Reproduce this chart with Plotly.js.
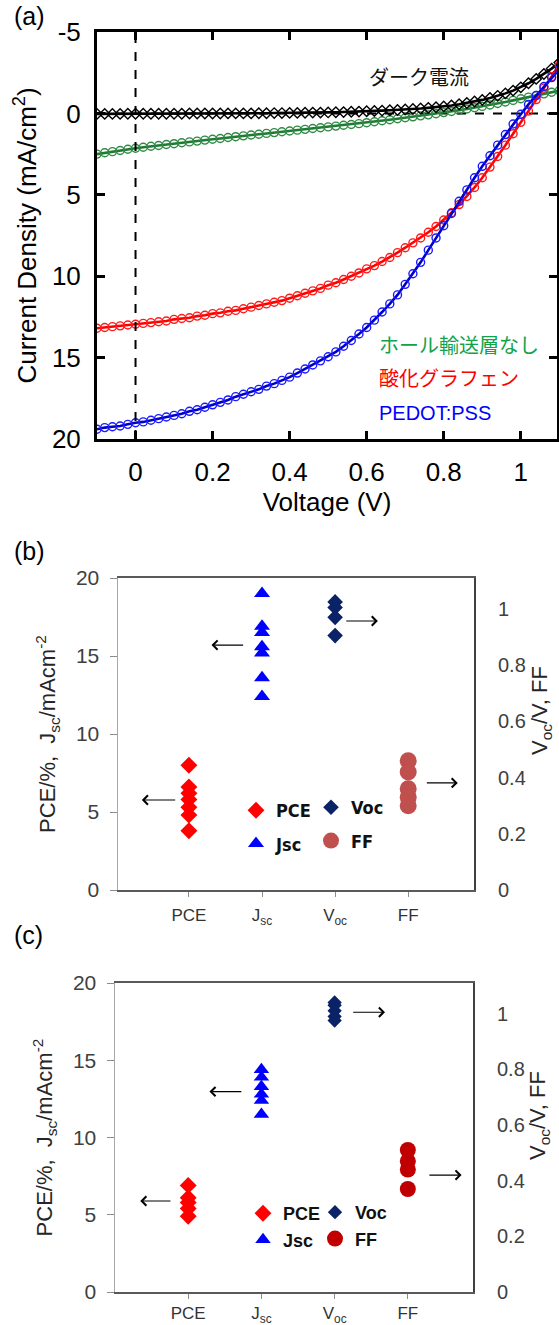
<!DOCTYPE html>
<html><head><meta charset="utf-8">
<script src="https://cdn.plot.ly/plotly-3.0.1.min.js"></script>
<style>html,body{margin:0;padding:0;background:#fff}</style>
</head><body>
<div id="chart" style="width:559px;height:1325px"></div>
<script>
// ---------- Panel (a): J-V curves ----------
const voltage = [-0.10,-0.08,-0.06,-0.04,-0.02,0.00,0.02,0.04,0.06,0.08,0.10,0.12,0.14,0.16,0.18,0.20,0.22,0.24,0.26,0.28,0.30,0.32,0.34,0.36,0.38,0.40,0.42,0.44,0.46,0.48,0.50,0.52,0.54,0.56,0.58,0.60,0.62,0.64,0.66,0.68,0.70,0.72,0.74,0.76,0.78,0.80,0.82,0.84,0.86,0.88,0.90,0.92,0.94,0.96,0.98,1.00,1.02,1.04,1.06,1.08,1.10];
const jDark = [0.03,0.03,0.03,0.03,0.02,0.02,0.02,0.02,0.02,0.02,0.02,0.02,0.01,0.01,0.01,0.01,0.01,0.0,0.0,0.0,0.0,-0.01,-0.01,-0.02,-0.02,-0.03,-0.03,-0.04,-0.05,-0.05,-0.06,-0.07,-0.08,-0.10,-0.11,-0.13,-0.15,-0.17,-0.19,-0.21,-0.24,-0.27,-0.30,-0.34,-0.38,-0.43,-0.49,-0.56,-0.64,-0.73,-0.83,-0.95,-1.08,-1.23,-1.40,-1.60,-1.85,-2.12,-2.42,-2.75,-3.12];
const jNoHTL = [2.50,2.42,2.35,2.28,2.20,2.14,2.08,2.02,1.97,1.91,1.86,1.80,1.75,1.70,1.64,1.59,1.54,1.48,1.43,1.38,1.33,1.28,1.23,1.18,1.13,1.08,1.03,0.98,0.93,0.88,0.83,0.78,0.73,0.68,0.63,0.57,0.51,0.45,0.39,0.33,0.27,0.21,0.15,0.09,0.02,-0.05,-0.12,-0.19,-0.27,-0.35,-0.43,-0.52,-0.61,-0.70,-0.80,-0.90,-1.00,-1.10,-1.20,-1.30,-1.40];
const jGO = [13.20,13.15,13.10,13.05,13.00,12.95,12.90,12.85,12.80,12.75,12.65,12.60,12.55,12.45,12.40,12.30,12.25,12.15,12.10,12.00,11.90,11.80,11.70,11.60,11.50,11.35,11.20,11.05,10.90,10.75,10.55,10.40,10.20,10.00,9.80,9.55,9.35,9.10,8.85,8.55,8.25,7.95,7.65,7.30,6.95,6.55,6.10,5.60,5.10,4.55,3.95,3.30,2.65,1.95,1.25,0.55,-0.15,-0.85,-1.55,-2.25,-2.95];
const jPEDOT = [19.40,19.30,19.25,19.20,19.10,19.00,18.95,18.85,18.75,18.65,18.55,18.45,18.30,18.20,18.05,17.90,17.75,17.60,17.40,17.25,17.10,16.95,16.75,16.60,16.40,16.20,15.95,15.70,15.45,15.20,14.95,14.65,14.30,13.95,13.55,13.15,12.70,12.20,11.70,11.15,10.50,9.85,9.15,8.40,7.65,6.90,6.15,5.40,4.70,3.95,3.25,2.60,1.95,1.30,0.65,0.05,-0.55,-1.10,-1.65,-2.20,-2.70];
const aXTicks = [0, 0.2, 0.4, 0.6, 0.8, 1];
const aYTicks = [-5, 0, 5, 10, 15, 20];
const aYTickText = ['-5', '0', '5', '10', '15', '20'];

// ---------- Panels (b), (c): device parameters ----------
const paramCats = ['PCE', 'Jsc', 'Voc', 'FF'];
const paramTickText = ['PCE', 'J<sub>sc</sub>', 'V<sub>oc</sub>', 'FF'];
const leftTicks = [0, 5, 10, 15, 20];
const rightTicks = [0, 0.2, 0.4, 0.6, 0.8, 1];
const rightTickText = ['0', '0.2', '0.4', '0.6', '0.8', '1'];

const bPCE = [8.0, 6.6, 6.2, 5.8, 5.3, 4.8, 3.8];
const bJsc = [19.0, 16.9, 16.5, 15.6, 15.2, 13.6, 12.4];
const bVoc = [1.025, 1.005, 0.97, 0.905];
const bFF  = [0.46, 0.42, 0.36, 0.33, 0.30];

const cPCE = [6.9, 6.1, 5.8, 5.4, 4.9];
const cJsc = [14.4, 13.9, 13.3, 12.8, 12.4, 11.5];
const cVoc = [1.04, 1.03, 1.01, 0.99, 0.975];
const cFF  = [0.51, 0.47, 0.44, 0.37];

const W = 559, H = 1325;
const px = v => v / W;
const py = v => 1 - v / H;

const AR = 'Liberation Sans, Arial, sans-serif';
const JP = 'Noto Sans CJK JP, sans-serif';
const NARROW = 'Liberation Sans Narrow, DejaVu Sans Condensed, Arial Narrow, sans-serif';

function jvTrace(y, lineColor, markColor, symbol, name) {
  return {x: voltage, y: y, xaxis: 'x', yaxis: 'y', mode: 'lines+markers', name: name,
    showlegend: false, cliponaxis: true,
    line: {color: lineColor, width: 2.6},
    marker: {symbol: symbol, size: 8, color: markColor, line: {color: markColor, width: 1.4}}};
}
function cat(arr, c) { return arr.map(() => c); }

const traces = [
  jvTrace(jNoHTL, '#1f7a32', '#2f8a45', 'circle-open', 'ホール輸送層なし'),
  jvTrace(jDark, '#000000', '#000000', 'diamond-open', 'ダーク電流'),
  jvTrace(jGO, '#ff0000', '#ff1a1a', 'circle-open', '酸化グラフェン'),
  jvTrace(jPEDOT, '#0000c8', '#1a1aff', 'circle-open', 'PEDOT:PSS'),

  {x: cat(bPCE,'PCE'), y: bPCE, xaxis:'x2', yaxis:'y2', mode:'markers', name:'PCE', legend:'legend', legendgroup:'b1',
   marker:{symbol:'diamond', size:13, color:'#ff0000'}},
  {x: cat(bJsc,'Jsc'), y: bJsc, xaxis:'x2', yaxis:'y2', mode:'markers', name:'Jsc', legend:'legend', legendgroup:'b2',
   marker:{symbol:'triangle-up', size:14, color:'#0000ff'}},
  {x: cat(bVoc,'Voc'), y: bVoc, xaxis:'x2', yaxis:'y3', mode:'markers', name:'Voc', legend:'legend2', legendgroup:'b3',
   marker:{symbol:'diamond', size:12, color:'#0a2266'}},
  {x: cat(bFF,'FF'), y: bFF, xaxis:'x2', yaxis:'y3', mode:'markers', name:'FF', legend:'legend2', legendgroup:'b4',
   marker:{symbol:'circle', size:17, color:'#c0504d'}},

  {x: cat(cPCE,'PCE'), y: cPCE, xaxis:'x3', yaxis:'y4', mode:'markers', name:'PCE', legend:'legend3',
   marker:{symbol:'diamond', size:13, color:'#ff0000'}},
  {x: cat(cJsc,'Jsc'), y: cJsc, xaxis:'x3', yaxis:'y4', mode:'markers', name:'Jsc', legend:'legend3',
   marker:{symbol:'triangle-up', size:13.5, color:'#0000ff'}},
  {x: cat(cVoc,'Voc'), y: cVoc, xaxis:'x3', yaxis:'y5', mode:'markers', name:'Voc', legend:'legend4',
   marker:{symbol:'diamond', size:11, color:'#0a2266'}},
  {x: cat(cFF,'FF'), y: cFF, xaxis:'x3', yaxis:'y5', mode:'markers', name:'FF', legend:'legend4',
   marker:{symbol:'circle', size:16, color:'#c00000'}}
];

const aAxisCommon = {showline:true, linecolor:'#000', linewidth:3, mirror:'ticks', ticks:'inside',
  ticklen:8, tickwidth:3, tickcolor:'#000', showgrid:false, zeroline:false,
  tickfont:{family:AR, size:26, color:'#000'}};

function catX(domain, anchor, range, standoff) {
  return {domain: domain, anchor: anchor, type:'category', categoryorder:'array', categoryarray: paramCats,
    range: range, tickmode:'array', tickvals: paramCats, ticktext: paramTickText,
    ticks:'outside', ticklen:5, tickwidth:1, tickcolor:'#8c8c8c',
    showline:true, linecolor:'#595959', linewidth:2, mirror:true, showgrid:false, zeroline:false,
    ticklabelstandoff: standoff, tickfont:{family:AR, size:17, color:'#333'}};
}
function leftY(domain, anchor, title) {
  return {domain: domain, anchor: anchor, range:[0,20], tickmode:'array', tickvals:leftTicks,
    ticks:'outside', ticklen:7, tickwidth:1, tickcolor:'#8c8c8c',
    showline:true, linecolor:'#a6a6a6', linewidth:1.5, showgrid:false, zeroline:false,
    ticklabelstandoff: 6, tickfont:{family:AR, size:21, color:'#404040'},
    title:{text: title, font:{family:AR, size:22, color:'#262626'}, standoff: 14}};
}
function rightY(overlay, anchor) {
  return {overlaying: overlay, anchor: anchor, side:'right', range:[0,1.11], tickmode:'array',
    tickvals: rightTicks, ticktext: rightTickText, ticks:'', showline:true, linecolor:'#404040', linewidth:2,
    showgrid:false, zeroline:false, ticklabelstandoff: 18, tickfont:{family:AR, size:20, color:'#404040'}};
}

const layout = {
  width: W, height: H, margin:{l:0, r:0, t:0, b:0}, paper_bgcolor:'#fff', plot_bgcolor:'rgba(0,0,0,0)',
  font:{family:AR},
  xaxis: Object.assign({}, aAxisCommon, {domain:[px(97), px(557)], anchor:'y', range:[-0.1, 1.094],
    tickmode:'array', tickvals:aXTicks, ticklabelstandoff: 8,
    title:{text:'Voltage (V)', font:{family:AR, size:26, color:'#000'}, standoff: 4}}),
  yaxis: Object.assign({}, aAxisCommon, {domain:[py(439), py(32)], anchor:'x', range:[20, -5],
    tickmode:'array', tickvals:aYTicks, ticktext:aYTickText, ticklabelstandoff: 8,
    title:{text:'Current Density (mA/cm<sup>2</sup>)', font:{family:AR, size:26, color:'#000'}, standoff: 8}}),

  xaxis2: catX([px(118), px(474)], 'y2', [-0.97, 3.9], 4),
  yaxis2: leftY([py(890), py(578)], 'x2', 'PCE/%,  J<sub>sc</sub>/mAcm<sup>-2</sup>'),
  yaxis3: rightY('y2', 'x2'),

  xaxis3: catX([px(115), px(473)], 'y4', [-1.0, 3.89], 0),
  yaxis4: leftY([py(1292), py(983)], 'x3', 'PCE/%,  J<sub>sc</sub>/mAcm<sup>-2</sup>'),
  yaxis5: rightY('y4', 'x3'),

  legend:  {x: px(236), y: py(792), xanchor:'left', yanchor:'top', bgcolor:'rgba(0,0,0,0)', traceorder:'grouped',
            tracegroupgap: 7, itemsizing:'trace', font:{family:NARROW, size:18, color:'#111', weight:'bold'}},
  legend2: {x: px(311), y: py(789), xanchor:'left', yanchor:'top', bgcolor:'rgba(0,0,0,0)', traceorder:'grouped',
            tracegroupgap: 7, itemsizing:'trace', font:{family:NARROW, size:18, color:'#111', weight:'bold'}},
  legend3: {x: px(243), y: py(1195), xanchor:'left', yanchor:'top', bgcolor:'rgba(0,0,0,0)',
            itemsizing:'trace', font:{family:AR, size:18, color:'#111', weight:'bold'}},
  legend4: {x: px(315), y: py(1194), xanchor:'left', yanchor:'top', bgcolor:'rgba(0,0,0,0)',
            itemsizing:'trace', font:{family:AR, size:18, color:'#111', weight:'bold'}},

  shapes: [
    {type:'line', xref:'x', yref:'y domain', x0:0, x1:0, y0:0, y1:1, line:{color:'#000', width:2, dash:'dash'}},
    {type:'line', xref:'x domain', yref:'y', x0:0, x1:1, y0:0, y1:0, line:{color:'#000', width:2, dash:'dash'}, layer:'below'}
  ],

  annotations: [
    {text:'(a)', xref:'paper', yref:'paper', x:px(12), y:py(16), xanchor:'left', yanchor:'middle', showarrow:false, font:{family:AR, size:25, color:'#000'}},
    {text:'(b)', xref:'paper', yref:'paper', x:px(12), y:py(551), xanchor:'left', yanchor:'middle', showarrow:false, font:{family:AR, size:25, color:'#000'}},
    {text:'(c)', xref:'paper', yref:'paper', x:px(12), y:py(935), xanchor:'left', yanchor:'middle', showarrow:false, font:{family:AR, size:25, color:'#000'}},

    {text:'ダーク電流', xref:'x', yref:'y', x:0.737, y:-2.25, xanchor:'center', yanchor:'middle', showarrow:false, font:{family:JP, size:20, color:'#111'}},
    {text:'ホール輸送層なし', xref:'x', yref:'y', x:0.626, y:14.18, xanchor:'left', yanchor:'middle', showarrow:false, font:{family:JP, size:20, color:'#12a24a'}},
    {text:'酸化グラフェン', xref:'x', yref:'y', x:0.626, y:16.25, xanchor:'left', yanchor:'middle', showarrow:false, font:{family:JP, size:20, color:'#ff0000'}},
    {text:'PEDOT:PSS', xref:'x', yref:'y', x:0.626, y:18.4, xanchor:'left', yanchor:'middle', showarrow:false, font:{family:AR, size:20, color:'#0000ff'}},

    {text:'V<sub>oc</sub>/V, FF', xref:'paper', yref:'paper', x:px(541), y:py(711), textangle:-90, xanchor:'center', yanchor:'middle', showarrow:false, font:{family:AR, size:22, color:'#262626'}},
    {text:'V<sub>oc</sub>/V, FF', xref:'paper', yref:'paper', x:px(539), y:py(1116), textangle:-90, xanchor:'center', yanchor:'middle', showarrow:false, font:{family:AR, size:22, color:'#262626'}},

    // arrows (b)
    {xref:'x2', yref:'y2', axref:'x2', ayref:'y2', x:-0.644, y:5.77, ax:-0.167, ay:5.77, text:'', showarrow:true, arrowhead:4, arrowsize:1.5, arrowwidth:1.2, arrowcolor:'#000'},
    {xref:'x2', yref:'y2', axref:'x2', ayref:'y2', x:0.309, y:15.7, ax:0.762, ay:15.7, text:'', showarrow:true, arrowhead:4, arrowsize:1.5, arrowwidth:1.2, arrowcolor:'#000'},
    {xref:'x2', yref:'y3', axref:'x2', ayref:'y3', x:2.585, y:0.957, ax:2.132, ay:0.957, text:'', showarrow:true, arrowhead:4, arrowsize:1.5, arrowwidth:1.2, arrowcolor:'#000'},
    {xref:'x2', yref:'y3', axref:'x2', ayref:'y3', x:3.678, y:0.381, ax:3.234, ay:0.381, text:'', showarrow:true, arrowhead:4, arrowsize:1.5, arrowwidth:1.2, arrowcolor:'#000'},
    // arrows (c)
    {xref:'x3', yref:'y4', axref:'x3', ayref:'y4', x:-0.655, y:5.89, ax:-0.222, ay:5.89, text:'', showarrow:true, arrowhead:4, arrowsize:1.5, arrowwidth:1.2, arrowcolor:'#000'},
    {xref:'x3', yref:'y4', axref:'x3', ayref:'y4', x:0.29, y:12.97, ax:0.746, ay:12.97, text:'', showarrow:true, arrowhead:4, arrowsize:1.5, arrowwidth:1.2, arrowcolor:'#000'},
    {xref:'x3', yref:'y5', axref:'x3', ayref:'y5', x:2.688, y:1.005, ax:2.233, ay:1.005, text:'', showarrow:true, arrowhead:4, arrowsize:1.5, arrowwidth:1.2, arrowcolor:'#000'},
    {xref:'x3', yref:'y5', axref:'x3', ayref:'y5', x:3.734, y:0.42, ax:3.274, ay:0.42, text:'', showarrow:true, arrowhead:4, arrowsize:1.5, arrowwidth:1.2, arrowcolor:'#000'}
  ]
};

Plotly.newPlot('chart', traces, layout, {displayModeBar:false, staticPlot:true});
</script>
</body></html>
